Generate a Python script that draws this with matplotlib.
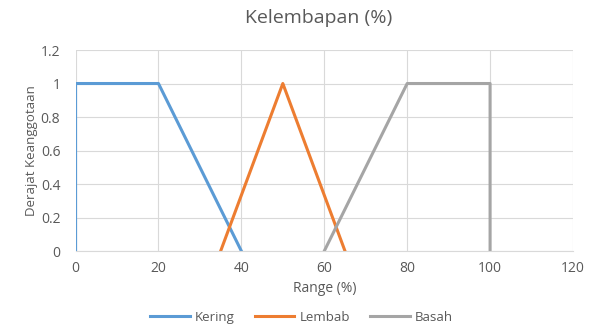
import matplotlib
matplotlib.use("Agg")
import matplotlib.pyplot as plt

# Data fungsi keanggotaan
kering_x = [0, 0, 20, 40]
kering_y = [0, 1, 1, 0]
lembab_x = [35, 50, 65]
lembab_y = [0, 1, 0]
basah_x = [60, 80, 100, 100]
basah_y = [0, 1, 1, 0]

x_ticks = [0, 20, 40, 60, 80, 100, 120]
y_ticks = [0, 0.2, 0.4, 0.6, 0.8, 1, 1.2]
y_labels = ["0", "0.2", "0.4", "0.6", "0.8", "1", "1.2"]

plt.rcParams["font.family"] = ["Open Sans", "DejaVu Sans"]
teks = "#595959"

fig = plt.figure(figsize=(5.95, 3.29), dpi=100)
ax = fig.add_axes([0.127, 0.237, 0.836, 0.611])

ax.plot(kering_x, kering_y, color="#5B9BD5", lw=2.2, label="Kering")
ax.plot(lembab_x, lembab_y, color="#ED7D31", lw=2.2, label="Lembab")
ax.plot(basah_x, basah_y, color="#A5A5A5", lw=2.2, label="Basah")

ax.set_xlim(0, 120)
ax.set_ylim(0, 1.2)
ax.set_xticks(x_ticks)
ax.set_yticks(y_ticks)
ax.set_yticklabels(y_labels)
ax.grid(True, color="#D9D9D9", lw=0.8)
ax.set_axisbelow(True)
for s in ["top", "right", "left"]:
    ax.spines[s].set_visible(False)
ax.spines["bottom"].set_color("#D9D9D9")
ax.tick_params(length=0, colors=teks, labelsize=10)
ax.tick_params(axis="x", pad=7)
ax.tick_params(axis="y", pad=11)

fig.text(0.535, 0.945, "Kelembapan (%)", color=teks, fontsize=14,
         ha="center", va="center")
ax.set_xlabel("Range (%)", color=teks, fontsize=10, labelpad=4)
ax.set_ylabel("Derajat Keanggotaan", color=teks, fontsize=9.5, labelpad=2)

fig.legend(loc="center", ncol=3, frameon=False, fontsize=9.5,
           labelcolor=teks, bbox_to_anchor=(0.507, 0.035), handlelength=3.0,
           handletextpad=0.4, columnspacing=1.5)

plt.savefig("out.png", dpi=100)
